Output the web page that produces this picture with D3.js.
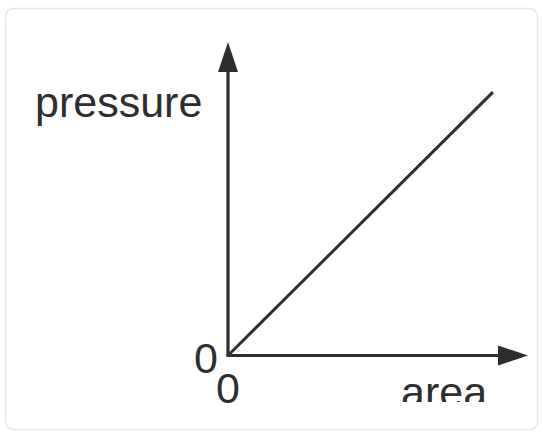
<!DOCTYPE html>
<html>
<head>
<meta charset="utf-8">
<script src="https://cdn.jsdelivr.net/npm/d3@7"></script>
<style>
  html, body { margin: 0; padding: 0; background: #ffffff; }
  svg { display: block; }
  text { font-family: "Liberation Sans", Arial, sans-serif; fill: #2e2e2e; }
</style>
</head>
<body>
<script>
// Proportional relation: pressure rises linearly with area
const areaValues = [0, 0.883];
const pressureValues = [0, 0.84];
const xTickLabels = ["0"];
const yTickLabels = ["0"];
const xAxisTitle = "area";
const yAxisTitle = "pressure";

const W = 543, H = 434;
const ink = "#2e2e2e";
const fontSize = 43;

const svg = d3.select("body").append("svg")
  .attr("width", W).attr("height", H);

// Card frame
svg.append("rect")
  .attr("x", 5.5).attr("y", 8.5)
  .attr("width", 532).attr("height", 421)
  .attr("rx", 8).attr("ry", 8)
  .attr("fill", "#ffffff")
  .attr("stroke", "#e6e6e6")
  .attr("stroke-width", 1.5);

// Scales: axis arrows run to the end of each range
const x = d3.scaleLinear().domain([0, 1]).range([228, 528]);
const y = d3.scaleLinear().domain([0, 1]).range([355.5, 42]);

const arrowLen = 30, arrowHalf = 10;

// y axis shaft + arrowhead
svg.append("line")
  .attr("x1", x(0)).attr("y1", y(0))
  .attr("x2", x(0)).attr("y2", y(1) + arrowLen - 2)
  .attr("stroke", ink).attr("stroke-width", 3.2);
svg.append("path")
  .attr("d", `M${x(0)},${y(1)} L${x(0) - arrowHalf},${y(1) + arrowLen} L${x(0) + arrowHalf},${y(1) + arrowLen} Z`)
  .attr("fill", ink);

// x axis shaft + arrowhead
svg.append("line")
  .attr("x1", x(0) - 1.6).attr("y1", y(0))
  .attr("x2", x(1) - arrowLen + 2).attr("y2", y(0))
  .attr("stroke", ink).attr("stroke-width", 3.2);
svg.append("path")
  .attr("d", `M${x(1)},${y(0)} L${x(1) - arrowLen},${y(0) - arrowHalf} L${x(1) - arrowLen},${y(0) + arrowHalf} Z`)
  .attr("fill", ink);

// Data line
const pts = areaValues.map((a, i) => [a, pressureValues[i]]);
svg.append("path")
  .datum(pts)
  .attr("d", d3.line().x(d => x(d[0])).y(d => y(d[1])))
  .attr("fill", "none")
  .attr("stroke", ink)
  .attr("stroke-width", 3);

// Tick labels at the origin
svg.selectAll("text.ytick").data(yTickLabels).enter().append("text")
  .attr("class", "ytick")
  .attr("x", x(0) - 10).attr("y", y(0) + 17.5)
  .attr("text-anchor", "end")
  .attr("font-size", fontSize)
  .text(d => d);
svg.selectAll("text.xtick").data(xTickLabels).enter().append("text")
  .attr("class", "xtick")
  .attr("x", x(0)).attr("y", y(0) + 47.5)
  .attr("text-anchor", "middle")
  .attr("font-size", fontSize)
  .text(d => d);

// Axis titles
svg.append("text")
  .attr("x", 35).attr("y", 117)
  .attr("font-size", fontSize)
  .text(yAxisTitle);

svg.append("clipPath").attr("id", "titleClip")
  .append("rect").attr("x", 0).attr("y", 0).attr("width", W).attr("height", 402);
svg.append("text")
  .attr("clip-path", "url(#titleClip)")
  .attr("x", 401).attr("y", 407)
  .attr("font-size", fontSize)
  .text(xAxisTitle);
</script>
</body>
</html>
